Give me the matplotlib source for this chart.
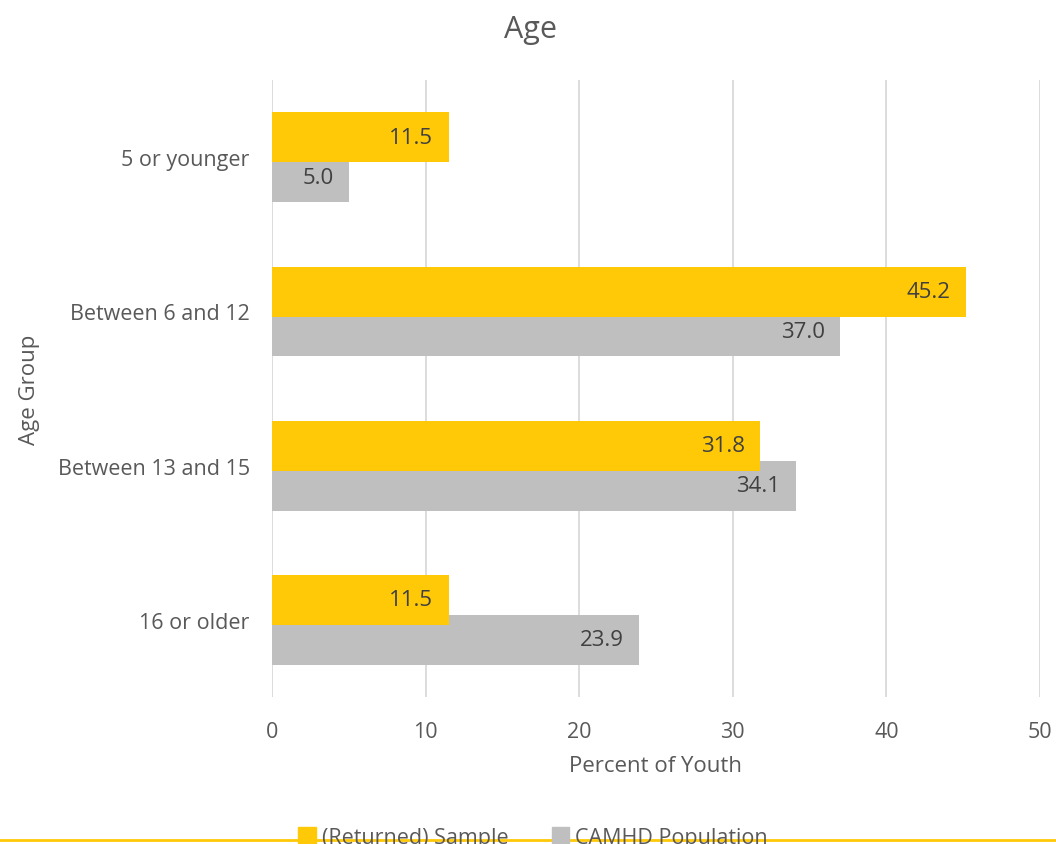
import matplotlib.pyplot as plt
import numpy as np
from matplotlib.lines import Line2D
from matplotlib.patches import Patch

plt.rcParams['font.family'] = ['Open Sans', 'DejaVu Sans']

groups = ['5 or younger', 'Between 6 and 12', 'Between 13 and 15', '16 or older']
sample = [11.5, 45.2, 31.8, 11.5]
population = [5.0, 37.0, 34.1, 23.9]
series_names = ['(Returned) Sample', 'CAMHD Population']

yellow = '#FFC907'
grey = '#BFBFBF'
txt = '#595959'

fig = plt.figure(figsize=(10.56, 8.45), dpi=100)
ax = fig.add_axes([0.2576, 0.174, 0.7272, 0.730])

y = np.arange(len(groups))
h = 0.324
# grey first so the yellow bar sits on top of the overlap
ax.barh(y + 0.129, population, height=h, color=grey, zorder=2)
ax.barh(y - 0.129, sample, height=h, color=yellow, zorder=3)

for i in range(len(groups)):
    ax.text(sample[i] - 1.0, y[i] - 0.129, f'{sample[i]:.1f}', ha='right', va='center',
            fontsize=16, color='#404040', zorder=4)
    ax.text(population[i] - 1.0, y[i] + 0.129, f'{population[i]:.1f}', ha='right', va='center',
            fontsize=16, color='#404040', zorder=4)

ax.set_xlim(0, 50)
ax.set_ylim(3.5, -0.5)
ax.set_xticks(range(0, 51, 10))
ax.set_yticks(y)
ax.set_yticklabels(groups)
ax.tick_params(axis='both', length=0, labelsize=15.5, labelcolor=txt)
ax.tick_params(axis='x', pad=17)
ax.tick_params(axis='y', pad=16)
ax.grid(axis='x', color='#D9D9D9', linewidth=1.3, zorder=0)
for s in ax.spines.values():
    s.set_visible(False)

fig.text(0.502, 0.964, 'Age', ha='center', va='center', fontsize=22, color=txt)
ax.set_xlabel('Percent of Youth', fontsize=16, color=txt, labelpad=10)
ax.set_ylabel('Age Group', fontsize=16, color=txt)
ax.yaxis.set_label_coords(-0.302, 0.5)

handles = [Patch(color=yellow), Patch(color=grey)]
fig.legend(handles, series_names, loc='center', bbox_to_anchor=(0.505, 0.008), ncol=2,
           frameon=False, fontsize=15.5, labelcolor=txt, handlelength=0.8, handleheight=0.8,
           handletextpad=0.3, columnspacing=2.0)

fig.add_artist(Line2D([0, 1], [0.005, 0.005], color=yellow, linewidth=2.0,
                      transform=fig.transFigure))

fig.savefig('out.png', dpi=100)
